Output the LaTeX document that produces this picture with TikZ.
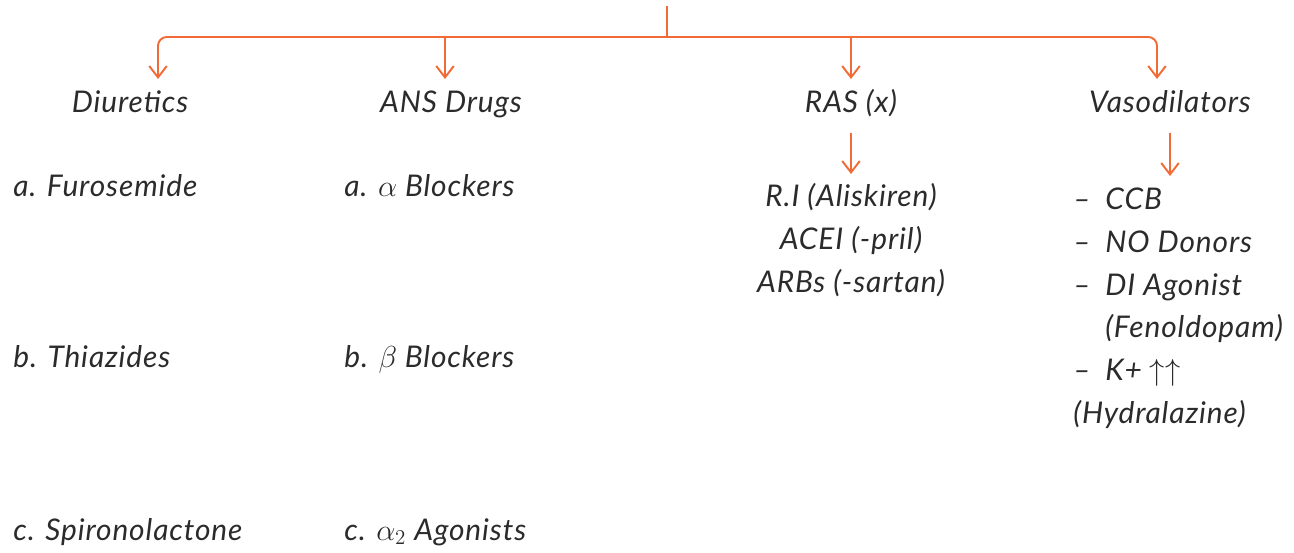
\documentclass[tikz,border=0pt]{standalone}
\usepackage{fontspec}
\setmainfont{Lato}[LetterSpace=3]
\usetikzlibrary{arrows.meta}
\definecolor{branch}{HTML}{F26A35}
\definecolor{ink}{HTML}{2B2B2B}
\newcommand{\bul}{\makebox[0.64cm][l]{–}}

\begin{document}
\begin{tikzpicture}[x=0.02cm,y=-0.02cm,
    wire/.style={branch,line width=1.1pt,rounded corners=5pt},
    arr/.style={wire,-{Straight Barb[length=6.5pt,width=10pt,line width=1.1pt]}},
    txt/.style={inner sep=0pt,text=ink,font=\fontsize{17}{20}\selectfont\itshape,anchor=base},
    item/.style={txt,anchor=base west}]
        \useasboundingbox (0,0) rectangle (1294,553);
        % top branch
        \coordinate (top) at (667,6);
        \coordinate (fork) at (667,37);
        \coordinate (diuT) at (158,79);
        \coordinate (ansT) at (445,79);
        \coordinate (rasT) at (851,79);
        \coordinate (vasT) at (1157,79);
        \draw[wire] (top) -- (fork);
        \draw[arr] (fork) -| (diuT);
        \draw[arr] (fork) -| (vasT);
        \draw[arr] (ansT |- fork) -- (ansT);
        \draw[arr] (rasT |- fork) -- (rasT);
        % headings
        \node[txt] (diu) at (130,113) {Diuretics};
        \node[txt] (ans) at (451,113) {ANS Drugs};
        \node[txt] (ras) at (851,113) {RAS (x)};
        \node[txt] (vas) at (1170,113) {Vasodilators};
        % diuretics
        \node[item] (diua) at (13,197) {a. Furosemide};
        \node[item] (diub) at (13,368) {b. Thiazides};
        \node[item] (diuc) at (13,540) {c. Spironolactone};
        % ANS drugs
        \node[item] (ansa) at (344,197) {a. $\alpha$ Blockers};
        \node[item] (ansb) at (344,368) {b. $\beta$ Blockers};
        \node[item] (ansc) at (344,540) {c. $\alpha_2$ Agonists};
        % RAS
        \coordinate (rasS) at (851,133);
        \coordinate (rasE) at (851,174);
        \draw[arr] (rasS) -- (rasE);
        \node[txt] (ras1) at (851,207) {R.I (Aliskiren)};
        \node[txt] (ras2) at (851,250) {ACEI (-pril)};
        \node[txt] (ras3) at (851,293) {ARBs (-sartan)};
        % vasodilators
        \coordinate (vasS) at (1170,133);
        \coordinate (vasE) at (1170,176);
        \draw[arr] (vasS) -- (vasE);
        \node[item] (vas1) at (1073,210) {\bul CCB};
        \node[item] (vas2) at (1073,253) {\bul NO Donors};
        \node[item] (vas3) at (1073,296) {\bul DI Agonist};
        \node[item] (vas4) at (1105,338) {(Fenoldopam)};
        \node[item] (vas5) at (1073,381) {\bul K+ $\uparrow\uparrow$};
        \node[item] (vas6) at (1073,423) {(Hydralazine)};
    \end{tikzpicture}
\end{document}
